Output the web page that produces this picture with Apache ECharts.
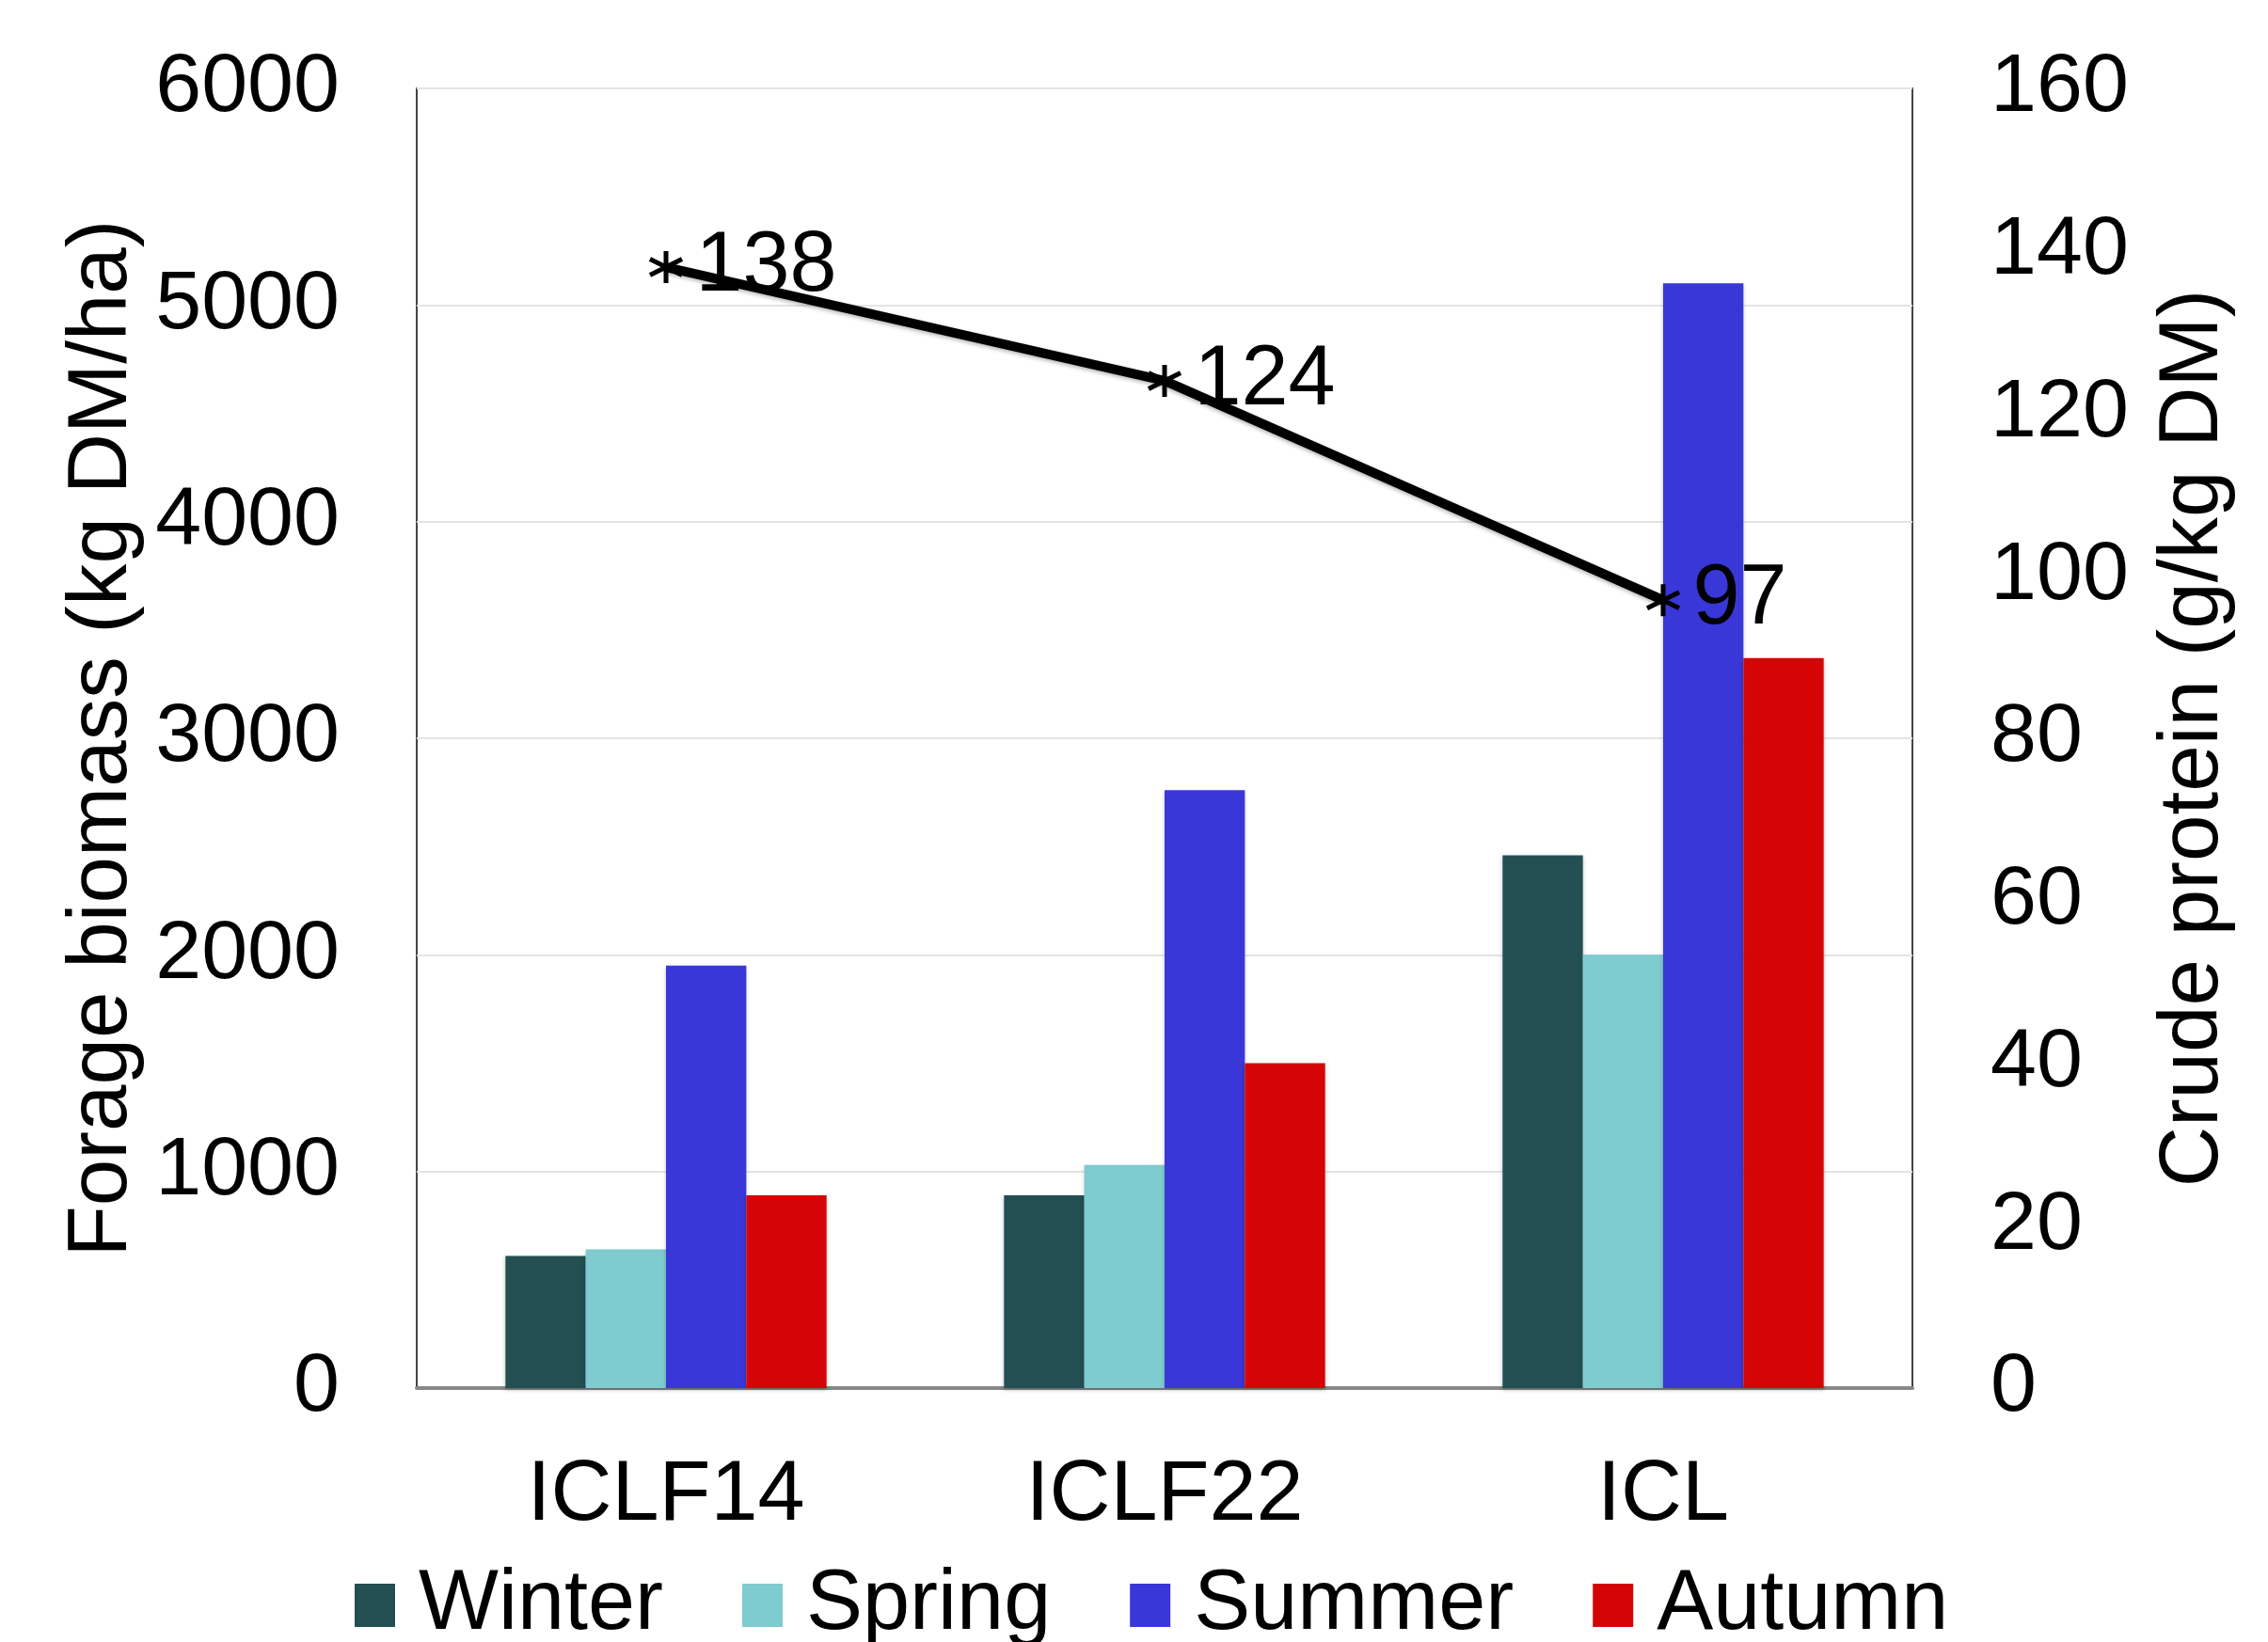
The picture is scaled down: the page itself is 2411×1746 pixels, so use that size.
<!DOCTYPE html>
<html><head><meta charset="utf-8">
<script src="https://cdn.jsdelivr.net/npm/echarts@6/dist/echarts.min.js"></script>
<style>html,body{margin:0;padding:0;background:#fff}#c{width:2411px;height:1746px}</style>
</head><body><div id="c"></div>
<script>
const categories = ['ICLF14', 'ICLF22', 'ICL'];
const winter = [610, 890, 2460];
const spring = [640, 1030, 2000];
const summer = [1950, 2760, 5100];
const autumn = [890, 1500, 3370];
const crudeProtein = [138, 124, 97];
const leftTicks = [0, 6000, 1000];
const rightTicks = [0, 160, 20];

const font = 'Liberation Sans, Arial, sans-serif';
const chart = echarts.init(document.getElementById('c'), null, {renderer: 'canvas'});
const asterisk = 'path://M0,-10L0,10M-8.66,-5L8.66,5M-8.66,5L8.66,-5';
function barSeries(name, data, color) {
  return {
    name, type: 'bar', data, yAxisIndex: 0,
    barGap: '0%', barCategoryGap: '35.6%',
    itemStyle: {color, shadowColor: 'rgba(0,0,0,0.25)', shadowBlur: 4, shadowOffsetY: 2}
  };
}
chart.setOption({
  backgroundColor: '#fff',
  animation: false,
  grid: {left: 443, right: 378, top: 94, bottom: 270, show: true, borderColor: '#444', borderWidth: 2, backgroundColor: 'transparent'},
  legend: {
    data: ['Winter', 'Spring', 'Summer', 'Autumn'],
    left: 372, top: 1657,
    itemWidth: 43, itemHeight: 46, itemGap: 84,
    icon: 'rect',
    textStyle: {fontFamily: font, fontSize: 90, color: '#000', padding: [0, 0, 0, 20]}
  },
  xAxis: {
    type: 'category', data: categories,
    axisTick: {show: false},
    axisLine: {lineStyle: {color: '#888', width: 4}},
    axisLabel: {fontFamily: font, fontSize: 90, color: '#000', margin: 70}
  },
  yAxis: [
    {
      type: 'value', min: leftTicks[0], max: leftTicks[1], interval: leftTicks[2],
      name: 'Forage biomass (kg DM/ha)', nameLocation: 'middle', nameGap: 264,
      nameTextStyle: {fontFamily: font, fontSize: 89, color: '#000'},
      axisLine: {show: false}, axisTick: {show: false},
      axisLabel: {fontFamily: font, fontSize: 88, color: '#000', margin: 82, formatter: v => String(v)},
      splitLine: {lineStyle: {color: '#e4e4e4', width: 2}}
    },
    {
      type: 'value', min: rightTicks[0], max: rightTicks[1], interval: rightTicks[2],
      name: 'Crude protein (g/kg DM)', nameLocation: 'middle', nameGap: 255,
      nameTextStyle: {fontFamily: font, fontSize: 89, color: '#000'},
      axisLine: {show: false}, axisTick: {show: false},
      axisLabel: {fontFamily: font, fontSize: 88, color: '#000', margin: 83, formatter: v => String(v)},
      splitLine: {show: false}
    }
  ],
  series: [
    barSeries('Winter', winter, '#234f53'),
    barSeries('Spring', spring, '#7ecbd0'),
    barSeries('Summer', summer, '#3a37d8'),
    barSeries('Autumn', autumn, '#d60505'),
    {
      name: 'Crude protein', type: 'line', yAxisIndex: 1, data: crudeProtein, z: 5,
      symbol: asterisk, symbolSize: 34,
      lineStyle: {color: '#000', width: 10, shadowColor: 'rgba(0,0,0,0.3)', shadowBlur: 4, shadowOffsetY: 2},
      itemStyle: {color: '#000', borderColor: '#000', borderWidth: 5},
      emphasis: {disabled: true},
      label: {show: true, position: 'right', distance: 12, fontFamily: font, fontSize: 90, color: '#000', formatter: '{c}'}
    }
  ]
});
</script></body></html>
